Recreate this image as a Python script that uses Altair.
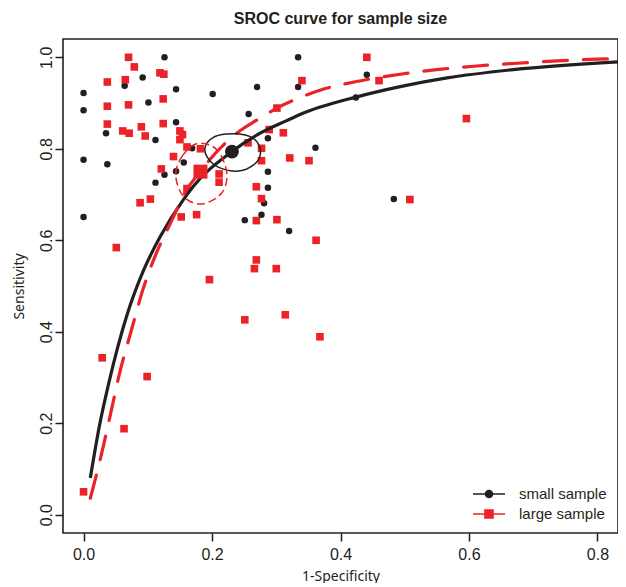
import altair as alt
import pandas as pd

BLACK = "#231f20"
RED = "#ec2228"

# ---- study points (1-specificity, sensitivity) ----
small_x = [0.126, 0.0, 0.064, 0.092, 0.144, 0.201, 0.270, 0.0, 0.101, 0.257,
           0.144, 0.035, 0.112, 0.0, 0.037, 0.156, 0.126, 0.144, 0.112, 0.169,
           0.334, 0.441, 0.334, 0.424, 0.287, 0.361, 0.287, 0.287, 0.281, 0.483,
           0.0, 0.251, 0.277, 0.320]
small_y = [1.000, 0.922, 0.938, 0.956, 0.930, 0.920, 0.935, 0.884, 0.901, 0.876,
           0.858, 0.834, 0.819, 0.776, 0.766, 0.770, 0.743, 0.751, 0.726, 0.801,
           1.000, 0.962, 0.935, 0.912, 0.823, 0.802, 0.750, 0.715, 0.681, 0.690,
           0.651, 0.644, 0.656, 0.620]

large_x = [0.070, 0.079, 0.119, 0.125, 0.037, 0.065, 0.124, 0.037, 0.070, 0.037,
           0.124, 0.061, 0.071, 0.090, 0.096, 0.150, 0.154, 0.150, 0.161, 0.182,
           0.256, 0.140, 0.121, 0.211, 0.211, 0.161, 0.269, 0.088, 0.104, 0.441,
           0.340, 0.460, 0.301, 0.289, 0.311, 0.277, 0.277, 0.321, 0.351, 0.277,
           0.596, 0.508, 0.152, 0.176, 0.269, 0.301, 0.051, 0.269, 0.266, 0.300,
           0.196, 0.362, 0.251, 0.314, 0.368, 0.029, 0.099, 0.063, 0.0]
large_y = [1.000, 0.979, 0.966, 0.963, 0.946, 0.951, 0.909, 0.893, 0.896, 0.854,
           0.855, 0.839, 0.834, 0.848, 0.828, 0.839, 0.831, 0.820, 0.804, 0.800,
           0.813, 0.783, 0.756, 0.745, 0.727, 0.713, 0.717, 0.682, 0.690, 1.000,
           0.949, 0.949, 0.889, 0.842, 0.835, 0.801, 0.774, 0.780, 0.774, 0.691,
           0.866, 0.689, 0.651, 0.656, 0.643, 0.645, 0.584, 0.557, 0.538, 0.538,
           0.514, 0.600, 0.426, 0.437, 0.389, 0.343, 0.302, 0.188, 0.050]

# ---- summary points ----
series_names = ["small sample", "large sample"]
summary_x = [0.231, 0.182]
summary_y = [0.794, 0.750]

# ---- SROC curves ----
small_curve_x = [0.0105, 0.0244, 0.040, 0.0675, 0.093, 0.119, 0.156, 0.171, 0.231,
                 0.275, 0.317, 0.337, 0.424, 0.493, 0.566, 0.669, 0.832]
small_curve_y = [0.080, 0.192, 0.292, 0.436, 0.533, 0.607, 0.690, 0.718, 0.794,
                 0.834, 0.862, 0.875, 0.913, 0.936, 0.955, 0.973, 0.990]
large_curve_x = [0.0105, 0.0156, 0.031, 0.044, 0.0545, 0.075, 0.093, 0.114, 0.138,
                 0.158, 0.182, 0.197, 0.244, 0.270, 0.301, 0.337, 0.368, 0.425,
                 0.493, 0.550, 0.612, 0.675, 0.737, 0.799, 0.832]
large_curve_y = [0.036, 0.063, 0.151, 0.233, 0.300, 0.406, 0.495, 0.574, 0.645,
                 0.705, 0.750, 0.777, 0.840, 0.863, 0.889, 0.912, 0.928, 0.947,
                 0.963, 0.973, 0.981, 0.987, 0.992, 0.996, 0.997]

# ---- confidence ellipses ----
small_ell_x = [0.1894, 0.2003, 0.2221, 0.2517, 0.2703, 0.2750, 0.2641, 0.2408, 0.2096, 0.1925]
small_ell_y = [0.8037, 0.8234, 0.8321, 0.8299, 0.8146, 0.7862, 0.7643, 0.7512, 0.7600, 0.7818]
large_ell_x = [0.1435, 0.1536, 0.1770, 0.2065, 0.2229, 0.2151, 0.1832, 0.1552]
large_ell_y = [0.7425, 0.7840, 0.8114, 0.7993, 0.7491, 0.7032, 0.6791, 0.6966]

XDOM = [-0.032, 0.832]
YDOM = [-0.04, 1.04]

xs = alt.Scale(domain=XDOM, nice=False, zero=False)
ys = alt.Scale(domain=YDOM, nice=False, zero=False)

x_axis = alt.Axis(values=[0, 0.2, 0.4, 0.6, 0.8], format=".1f", labelPadding=5,
                  labelFlush=False, title="1-Specificity", titleX=277.5, titleY=47,
                  titleAlign="center", titleBaseline="alphabetic", grid=False)
y_axis = alt.Axis(values=[0, 0.2, 0.4, 0.6, 0.8, 1.0], format=".1f", labelAngle=-90,
                  labelAlign="center", labelBaseline="alphabetic", labelPadding=4,
                  labelFlush=False, title="Sensitivity", titleX=-40, titleY=247,
                  titleAngle=270, titleAlign="center", titleBaseline="alphabetic", grid=False)

def xy():
    return dict(x=alt.X("x:Q", scale=xs, axis=x_axis),
                y=alt.Y("y:Q", scale=ys, axis=y_axis))

df_small = pd.DataFrame({"x": small_x, "y": small_y})
df_large = pd.DataFrame({"x": large_x, "y": large_y})
df_sc = pd.DataFrame({"x": small_curve_x, "y": small_curve_y})
df_lc = pd.DataFrame({"x": large_curve_x, "y": large_curve_y})
df_se = pd.DataFrame({"x": small_ell_x, "y": small_ell_y, "i": range(len(small_ell_x))})
df_le = pd.DataFrame({"x": large_ell_x, "y": large_ell_y, "i": range(len(large_ell_x))})
df_sum = pd.DataFrame({"x": summary_x, "y": summary_y, "series": series_names})

small_pts = alt.Chart(df_small).mark_circle(size=42, color=BLACK, opacity=1).encode(**xy())
large_pts = alt.Chart(df_large).mark_square(size=58, color=RED, opacity=1).encode(**xy())

small_curve = alt.Chart(df_sc).mark_line(color=BLACK, strokeWidth=3.2, clip=True,
                                         interpolate="monotone").encode(**xy())
large_curve = alt.Chart(df_lc).mark_line(color=RED, strokeWidth=3.2, clip=True,
                                         interpolate="monotone", strokeDash=[24, 16],
                                         strokeCap="round").encode(**xy())

small_ell = alt.Chart(df_se).mark_line(color=BLACK, strokeWidth=1.5,
                                       interpolate="cardinal-closed").encode(
    order="i:Q", **xy())
large_ell = alt.Chart(df_le).mark_line(color=RED, strokeWidth=1.5, strokeDash=[8, 4],
                                       interpolate="cardinal-closed").encode(
    order="i:Q", **xy())

sum_small = alt.Chart(df_sum.iloc[[0]]).mark_circle(size=190, color=BLACK, opacity=1).encode(**xy())
sum_large = alt.Chart(df_sum.iloc[[1]]).mark_square(size=196, color=RED, opacity=1).encode(**xy())

# legend symbols: line with marker
circ_path = "M-2,0L2,0M0.44,0A0.44,0.44,0,1,1,-0.44,0A0.44,0.44,0,1,1,0.44,0Z"
sq_path = "M-2,0L2,0M-0.5,-0.5L0.5,-0.5L0.5,0.5L-0.5,0.5Z"

leg = alt.Legend(title=None, orient="none", legendX=417, legendY=446, padding=0,
                 symbolSize=256, symbolStrokeWidth=1.6, symbolOpacity=1,
                 symbolOffset=0, labelOffset=21, rowPadding=3,
                 labelFont="Liberation Sans", labelFontSize=15, labelColor=BLACK)
legend_layer = alt.Chart(df_sum).mark_point(filled=True, opacity=0, strokeWidth=1.6).encode(
    x=alt.X("x:Q", scale=xs, axis=x_axis),
    y=alt.Y("y:Q", scale=ys, axis=y_axis),
    fill=alt.Fill("series:N", scale=alt.Scale(domain=series_names, range=[BLACK, RED]), legend=leg),
    stroke=alt.Stroke("series:N", scale=alt.Scale(domain=series_names, range=[BLACK, RED]), legend=leg),
    shape=alt.Shape("series:N", scale=alt.Scale(domain=series_names, range=[circ_path, sq_path]), legend=leg),
)

chart = alt.layer(
    small_pts, large_pts, small_curve, large_curve, sum_small, sum_large,
    small_ell, large_ell, legend_layer
).properties(
    width=555, height=494,
    title=alt.TitleParams("SROC curve for sample size", font="Liberation Sans", fontSize=16,
                          fontWeight="bold", anchor="middle", offset=12, color=BLACK),
    autosize="none",
    padding={"left": 55, "top": 31, "right": 0, "bottom": 50},
).configure(
    background="white"
).configure_view(
    stroke=BLACK, strokeWidth=1.6
).configure_axis(
    labelFont="Liberation Sans", labelFontSize=16, labelColor=BLACK,
    tickColor=BLACK, tickWidth=1.5, tickSize=8, domain=False, grid=False,
    titleFont="Noto Sans", titleFontSize=14, titleFontWeight="normal", titleColor=BLACK
)

chart.save("out.html", embed_options={"renderer": "svg", "actions": False})
